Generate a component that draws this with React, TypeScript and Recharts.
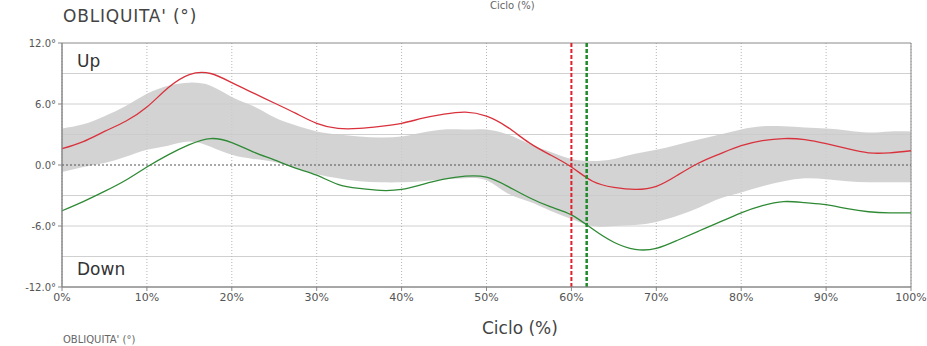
import {
  Area,
  CartesianGrid,
  ComposedChart,
  Line,
  ReferenceArea,
  ReferenceLine,
  XAxis,
  YAxis,
} from "recharts";

// Ciclo (%) sampled every 2.5%
const cycle = [
  0, 2.5, 5, 7.5, 10, 12.5, 15, 17.5, 20, 22.5, 25, 27.5, 30, 32.5, 35, 37.5, 40, 42.5, 45, 47.5, 50,
  52.5, 55, 57.5, 60, 62.5, 65, 67.5, 70, 72.5, 75, 77.5, 80, 82.5, 85, 87.5, 90, 92.5, 95, 97.5, 100,
];
const leftSide = [
  1.6, 2.3, 3.3, 4.3, 5.7, 7.6, 8.9, 9.0, 8.1, 7.1, 6.1, 5.1, 4.1, 3.6, 3.6, 3.8, 4.1, 4.6, 5.0, 5.2, 4.8,
  3.7, 2.2, 1.0, -0.2, -1.6, -2.2, -2.4, -2.1, -1.0, 0.2, 1.1, 1.9, 2.4, 2.6, 2.5, 2.1, 1.6, 1.2, 1.2, 1.4,
];
const rightSide = [
  -4.5, -3.6, -2.6, -1.5, -0.2, 1.0, 2.0, 2.6, 2.2, 1.3, 0.5, -0.3, -1.0, -1.9, -2.3, -2.5, -2.4, -1.9, -1.4, -1.1, -1.2,
  -2.1, -3.2, -4.1, -4.9, -6.3, -7.6, -8.3, -8.2, -7.4, -6.5, -5.6, -4.7, -4.0, -3.6, -3.7, -3.9, -4.3, -4.6, -4.7, -4.7,
];
const normUpper = [
  3.6, 4.0, 4.8, 5.8, 7.0, 7.8, 8.1, 7.8, 6.7, 5.8, 4.7, 3.9, 3.3, 3.0, 2.8, 2.7, 2.8, 3.2, 3.5, 3.5, 3.5,
  3.0, 2.1, 1.3, 0.6, 0.4, 0.6, 1.1, 1.5, 2.0, 2.5, 3.0, 3.5, 3.8, 3.8, 3.7, 3.6, 3.4, 3.2, 3.3, 3.3,
];
const normLower = [
  -0.7, -0.2, 0.2, 0.8, 1.5, 1.9, 2.3, 1.8, 1.0, 0.6, 0.3, -0.3, -0.9, -1.3, -1.6, -1.7, -1.7, -1.6, -1.4, -1.3, -1.5,
  -2.8, -3.6, -4.5, -5.3, -6.0, -6.0, -5.9, -5.6, -5.0, -4.2, -3.3, -2.7, -2.1, -1.6, -1.3, -1.4, -1.6, -1.7, -1.7, -1.7,
];
const xTicks = [0, 10, 20, 30, 40, 50, 60, 70, 80, 90, 100];
const yTicks = [-12, -6, 0, 6, 12];
const gridY = [-9, -6, -3, 3, 6, 9];
const toeOffLeft = 60;
const toeOffRight = 61.8;

const data = cycle.map((c, i) => ({
  c,
  left: leftSide[i],
  right: rightSide[i],
  band: [normLower[i], normUpper[i]],
}));

const font = "'DejaVu Sans', Verdana, sans-serif";

export default function App() {
  return (
    <div
      style={{
        position: "absolute",
        left: 0,
        top: 0,
        width: 927,
        height: 346,
        background: "#fff",
        overflow: "hidden",
        fontFamily: font,
        color: "#333",
      }}
    >
      <div style={{ position: "absolute", left: 490, top: 0, fontSize: 10, color: "#666" }}>Ciclo (%)</div>
      <div style={{ position: "absolute", left: 63, top: 6, fontSize: 17, letterSpacing: 0.8, color: "#444" }}>
        OBLIQUITA' (°)
      </div>
      <ComposedChart
        width={927}
        height={346}
        data={data}
        margin={{ top: 43, right: 16, left: 0, bottom: 39 }}
      >
        <CartesianGrid horizontal vertical={false} horizontalValues={gridY} stroke="#d0d0d0" />
        <CartesianGrid horizontal={false} vertical verticalValues={xTicks} stroke="#b5b5b5" strokeDasharray="1 2" />
        <XAxis
          dataKey="c"
          type="number"
          domain={[0, 100]}
          ticks={xTicks}
          tickFormatter={(v) => `${v}%`}
          tick={{ fontSize: 11, fill: "#555", fontFamily: font }}
          stroke="#888"
          tickSize={4}
          height={20}
        />
        <YAxis
          type="number"
          domain={[-12, 12]}
          ticks={yTicks}
          tickFormatter={(v) => `${v.toFixed(1)}°`}
          tick={{ fontSize: 10, fill: "#555", fontFamily: font }}
          stroke="#888"
          tickSize={4}
          width={62}
        />
        <Area
          dataKey="band"
          type="natural"
          fill="#cbcbcb"
          fillOpacity={0.85}
          stroke="none"
          isAnimationActive={false}
        />
        <ReferenceLine y={0} stroke="#555" strokeDasharray="2 2" strokeWidth={1.2} />
        <Line
          dataKey="left"
          type="natural"
          stroke="#d9323c"
          strokeWidth={1.3}
          dot={false}
          isAnimationActive={false}
        />
        <Line
          dataKey="right"
          type="natural"
          stroke="#2f8a35"
          strokeWidth={1.3}
          dot={false}
          isAnimationActive={false}
        />
        <ReferenceLine x={toeOffLeft} stroke="#e0202c" strokeWidth={2} strokeDasharray="4 2" />
        <ReferenceLine x={toeOffRight} stroke="#1f8a2a" strokeWidth={2.5} strokeDasharray="4 2" />
        <ReferenceArea x1={0} x2={100} y1={-12} y2={12} fill="none" stroke="#8a8a8a" strokeWidth={1} />
      </ComposedChart>
      <div style={{ position: "absolute", left: 77, top: 51, fontSize: 17, color: "#333" }}>Up</div>
      <div style={{ position: "absolute", left: 77, top: 259, fontSize: 17, color: "#333" }}>Down</div>
      <div style={{ position: "absolute", left: 482, top: 318, fontSize: 17, color: "#444" }}>Ciclo (%)</div>
      <div style={{ position: "absolute", left: 63, top: 334, fontSize: 10, color: "#666" }}>OBLIQUITA' (°)</div>
    </div>
  );
}
